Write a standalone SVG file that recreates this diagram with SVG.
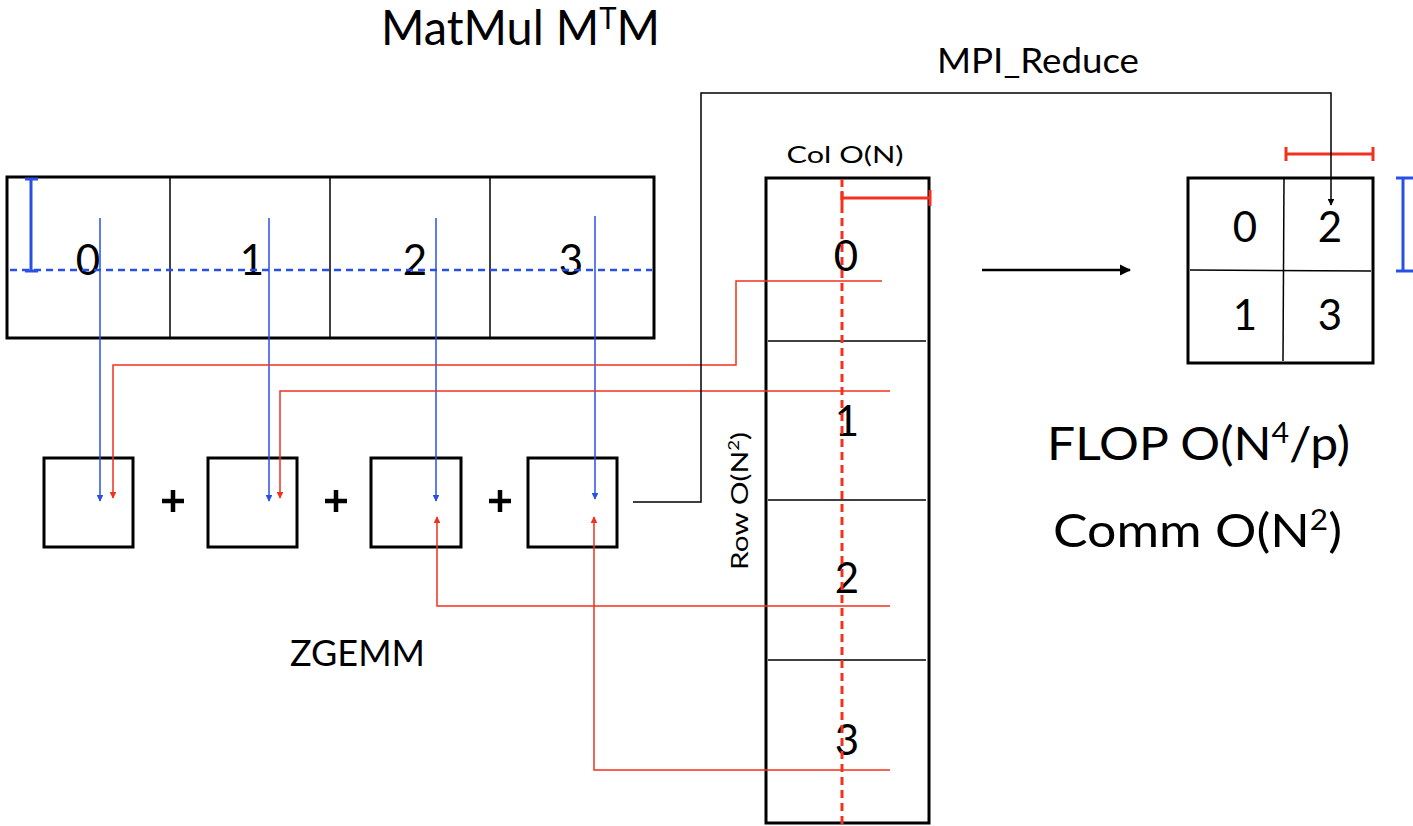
<svg xmlns="http://www.w3.org/2000/svg" width="1413" height="826" viewBox="0 0 1413 826">
<style>
text{font-family:Lato,"Open Sans","Liberation Sans",sans-serif;fill:#000}
.dig{font-size:42px;text-anchor:middle}
.box{fill:#fff;stroke:#000;stroke-width:3}
.thin{stroke:#000;stroke-width:1.5;fill:none}
.blue{stroke:#2850e6;stroke-width:1.5;fill:none}
.red{stroke:#f0321e;stroke-width:1.5;fill:none}
.blk{stroke:#000;stroke-width:1.5;fill:none}
</style>
<defs>
<marker id="ab" viewBox="0 0 10 10" refX="9" refY="5" markerWidth="4.5" markerHeight="4.5" orient="auto" markerUnits="strokeWidth"><path d="M0,0L10,5L0,10z" fill="#2850e6"/></marker>
<marker id="ar" viewBox="0 0 10 10" refX="9" refY="5" markerWidth="4.5" markerHeight="4.5" orient="auto" markerUnits="strokeWidth"><path d="M0,0L10,5L0,10z" fill="#f0321e"/></marker>
<marker id="ak" viewBox="0 0 10 10" refX="9" refY="5" markerWidth="4.5" markerHeight="4.5" orient="auto" markerUnits="strokeWidth"><path d="M0,0L10,5L0,10z" fill="#000"/></marker>
</defs>
<rect width="1413" height="826" fill="#fff"/>

<g id="title">
<text x="381" y="45" font-size="48" textLength="279" lengthAdjust="spacingAndGlyphs">MatMul M<tspan dy="-16" font-size="30">T</tspan><tspan dy="16">M</tspan></text>
</g>

<g id="matrix-row">
<rect class="box" x="7" y="177" width="647" height="161"/>
<line class="thin" x1="170" y1="177" x2="170" y2="338"/>
<line class="thin" x1="330" y1="177" x2="330" y2="338"/>
<line class="thin" x1="490" y1="177" x2="490" y2="338"/>
<text class="dig" x="88" y="275">0</text>
<text class="dig" x="252" y="275">1</text>
<text class="dig" x="415" y="275">2</text>
<text class="dig" x="571" y="275">3</text>
<line x1="10" y1="270" x2="652" y2="270" stroke="#2850e6" stroke-width="2.5" stroke-dasharray="7,5"/>
<path d="M31,179V271M25,179H38M25,271H38" stroke="#2850e6" stroke-width="3" fill="none"/>
</g>

<g id="zgemm-boxes">
<rect class="box" x="44" y="458" width="89" height="89"/>
<rect class="box" x="208" y="458" width="89" height="89"/>
<rect class="box" x="371" y="458" width="90" height="89"/>
<rect class="box" x="528" y="458" width="89" height="89"/>
<path d="M162,501H184M173,490V512M325,501H347M336,490V512M489,501H511M500,490V512" stroke="#000" stroke-width="4.5"/>
<text x="290" y="666" font-size="37" textLength="135" lengthAdjust="spacingAndGlyphs">ZGEMM</text>
</g>

<g id="matrix-col">
<rect class="box" x="766" y="178" width="163" height="645"/>
<line class="thin" x1="768" y1="341" x2="926" y2="341"/>
<line class="thin" x1="768" y1="500" x2="926" y2="500"/>
<line class="thin" x1="768" y1="660" x2="926" y2="660"/>
<text class="dig" x="846" y="271">0</text>
<text class="dig" x="847" y="436">1</text>
<text class="dig" x="847" y="593">2</text>
<text class="dig" x="847" y="755">3</text>
<line x1="842" y1="179" x2="842" y2="826" stroke="#f0321e" stroke-width="3" stroke-dasharray="8,5"/>
<path d="M842,198H930M842,191V205M930,190V206" stroke="#f0321e" stroke-width="3" fill="none"/>
<text x="845" y="163" font-size="24" text-anchor="middle" textLength="117" lengthAdjust="spacingAndGlyphs">Col O(N)</text>
<text transform="translate(748,501) rotate(-90)" font-size="24" text-anchor="middle" textLength="138" lengthAdjust="spacingAndGlyphs">Row O(N<tspan dy="-9" font-size="15">2</tspan><tspan dy="9">)</tspan></text>
</g>

<g id="matrix-result">
<rect class="box" x="1188" y="178" width="185" height="185"/>
<line class="thin" x1="1284" y1="178" x2="1283" y2="361"/>
<line class="thin" x1="1190" y1="270" x2="1371" y2="271"/>
<text class="dig" x="1245" y="242">0</text>
<text class="dig" x="1330" y="242">2</text>
<text class="dig" x="1245" y="330">1</text>
<text class="dig" x="1330" y="330">3</text>
<path d="M1286,154H1373M1286,147V161M1373,147V161" stroke="#f0321e" stroke-width="3" fill="none"/>
<path d="M1403,178V271M1396,178H1413M1396,271H1413" stroke="#2850e6" stroke-width="3" fill="none"/>
</g>

<g id="labels">
<text x="937" y="73" font-size="35" textLength="202" lengthAdjust="spacingAndGlyphs">MPI_Reduce</text>
<text x="1047" y="460" font-size="46" textLength="303" lengthAdjust="spacingAndGlyphs">FLOP O(N<tspan dy="-17" font-size="28">4</tspan><tspan dy="17">/p)</tspan></text>
<text x="1053" y="547" font-size="46" textLength="289" lengthAdjust="spacingAndGlyphs">Comm O(N<tspan dy="-17" font-size="28">2</tspan><tspan dy="17">)</tspan></text>
</g>

<g id="connectors">
<line class="blue" x1="100" y1="218" x2="100" y2="501" marker-end="url(#ab)"/>
<line class="blue" x1="269" y1="218" x2="269" y2="501" marker-end="url(#ab)"/>
<line class="blue" x1="436" y1="218" x2="436" y2="501" marker-end="url(#ab)"/>
<line class="blue" x1="595" y1="216" x2="595" y2="499" marker-end="url(#ab)"/>
<path class="red" d="M882,281H736V365H113V498" marker-end="url(#ar)"/>
<path class="red" d="M890,391H280V498" marker-end="url(#ar)"/>
<path class="red" d="M890,606H437V517" marker-end="url(#ar)"/>
<path class="red" d="M890,770H594V517" marker-end="url(#ar)"/>
<path class="blk" d="M633,502H701V93H1331V205" marker-end="url(#ak)"/>
<line x1="982" y1="270" x2="1130" y2="270" stroke="#000" stroke-width="2.5" marker-end="url(#ak)"/>
</g>
</svg>
